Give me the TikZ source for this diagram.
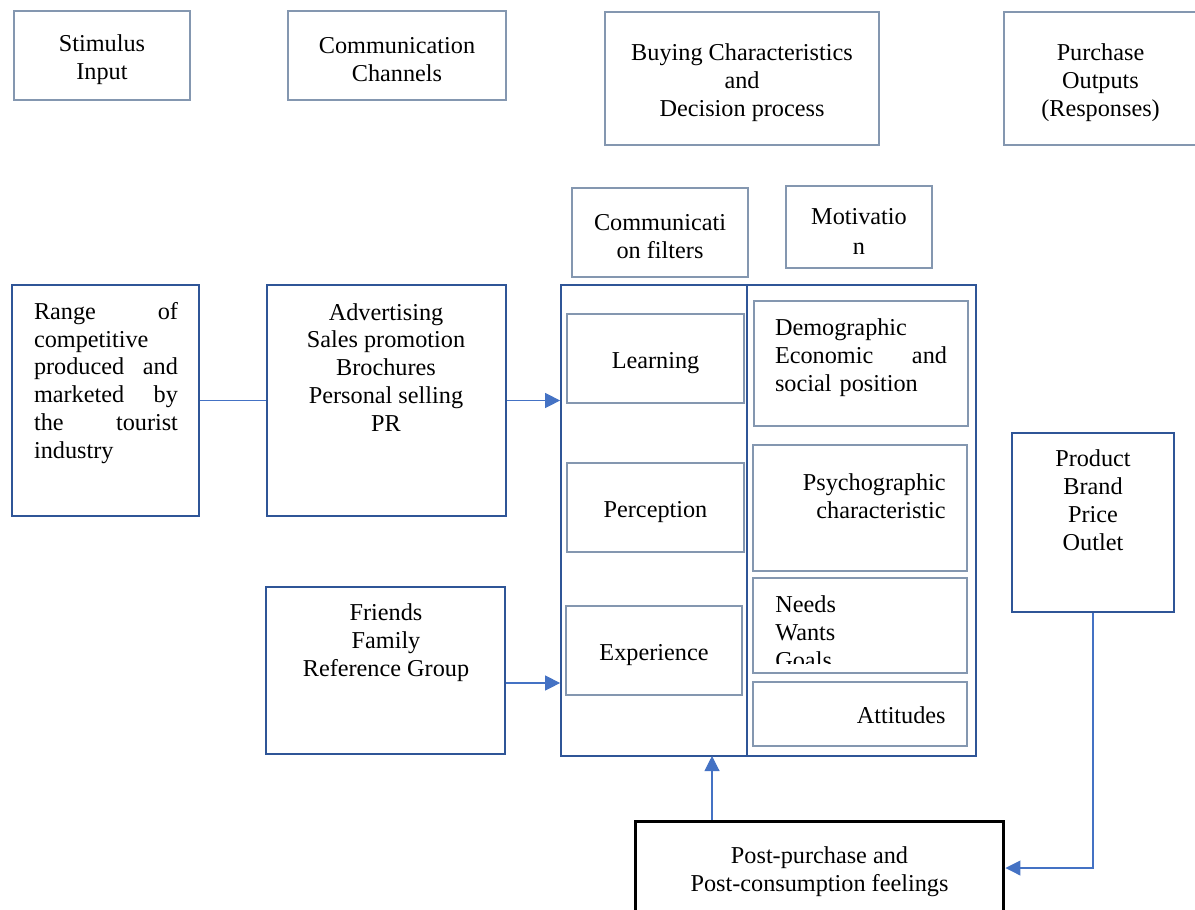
\documentclass[tikz,border=0pt]{standalone}
\usepackage{fontspec}
\setmainfont{Liberation Serif}
\usetikzlibrary{arrows.meta}
\definecolor{darkblue}{HTML}{2F5597}
\definecolor{greyblue}{HTML}{8497B0}
\definecolor{arrowblue}{HTML}{4472C4}
\newcommand{\tstrut}{\rule{0pt}{14pt}}
\tikzset{
	txt/.style={font=\fontsize{13.8}{15.9}\selectfont, align=center, inner sep=0pt},
	lbox/.style={txt, draw=greyblue, line width=1.5pt},
	dbox/.style={txt, draw=darkblue, line width=1pt},
	arr/.style={draw=arrowblue, line width=0.6pt, -{Triangle[length=0.3cm,width=0.3cm]}, arrowblue}
}

\begin{document}
\begin{tikzpicture}[x=0.02cm, y=-0.02cm]
				\useasboundingbox (0,0) rectangle (1195,909);
				\clip (0,0) rectangle (1195,909);
				
				% top row
				\node[lbox, minimum width=3.52cm, minimum height=1.78cm] (stim) at (102,55.5) {\tstrut Stimulus\\Input};
				\node[lbox, minimum width=4.36cm, minimum height=1.78cm] (chan) at (397,55.5) {\tstrut Communication\\Channels};
				\node[lbox, minimum width=5.48cm, minimum height=2.66cm] (buy) at (742,78.5) {\tstrut Buying Characteristics\\and\\Decision process};
				\node[lbox, minimum width=3.86cm, minimum height=2.66cm] (purch) at (1100.5,78.5) {\tstrut Purchase\\Outputs\\(Responses)};
				
				\node[lbox, minimum width=3.52cm, minimum height=1.78cm] (cfilt) at (660,232.5) {\tstrut Communicati\\on filters};
				\node[lbox, minimum width=2.92cm, minimum height=1.64cm] (motiv) at (859,227) {\tstrut Motivatio\\[1pt]n};
				
				% stimulus and channels
				\node[dbox, minimum width=3.74cm, minimum height=4.62cm] (range) at (105.5,400.5) {};
				\node[txt, text width=2.88cm, align=left] (rangetext) at (106,383) {Range\hfill of\\competitive\\produced\hfill and\\marketed\hfill by\\the\hfill tourist\\industry};
				\node[dbox, minimum width=4.78cm, minimum height=4.62cm] (adv) at (386.5,400.5) {};
				\node[txt] (advtext) at (386,367.5) {Advertising\\Sales promotion\\Brochures\\Personal selling\\PR};
				\node[dbox, minimum width=4.78cm, minimum height=3.34cm] (friends) at (385.5,670.5) {};
				\node[txt] (friendstext) at (386,643) {Friends\\Family\\Reference Group};
				
				% filters
				\node[dbox, minimum width=3.72cm, minimum height=9.42cm] (filt) at (654,520.5) {};
				\node[lbox, minimum width=3.54cm, minimum height=1.78cm] (learn) at (655.5,358.5) {\tstrut Learning};
				\node[lbox, minimum width=3.54cm, minimum height=1.78cm] (perc) at (655.5,507.5) {\tstrut Perception};
				\node[lbox, minimum width=3.52cm, minimum height=1.78cm] (exper) at (654,650.5) {\tstrut Experience};
				
				% characteristics
				\node[dbox, minimum width=4.58cm, minimum height=9.42cm] (char) at (861.5,520.5) {};
				\node[lbox, minimum width=4.28cm, minimum height=2.5cm] (demo) at (861,363.5) {};
				\node[txt, text width=3.44cm, align=left] (demotext) at (861,358) {Demographic\\Economic\hfill and\\social position};
				\node[lbox, minimum width=4.28cm, minimum height=2.52cm] (psych) at (860,508) {};
				\node[txt, align=right, anchor=east] (psychtext) at (946,496) {Psychographic\\characteristic};
				\node[lbox, minimum width=4.28cm, minimum height=1.9cm] (needs) at (860,625.5) {};
				\begin{scope}
					\clip (753,578) rectangle (967,663);
					\node[txt, align=left, anchor=west] (needstext) at (775,632) {Needs\\Wants\\Goals};
				\end{scope}
				\node[lbox, minimum width=4.28cm, minimum height=1.28cm] (att) at (860,714) {};
				\node[txt, anchor=east] (atttext) at (946,715) {Attitudes};
				
				% outputs
				\node[dbox, minimum width=3.24cm, minimum height=3.58cm] (prod) at (1093,522.5) {};
				\node[txt] (prodtext) at (1093,500) {Product\\Brand\\Price\\Outlet};
				\node[txt, draw=black, line width=1.7pt, minimum width=7.38cm, minimum height=1.88cm] (post) at (819.5,868) {\tstrut Post-purchase and\\Post-consumption feelings};
				
				% connectors
				\draw[draw=arrowblue, line width=0.6pt] (range.east) -- (adv.west);
				\draw[arr] (adv.east) -- (adv.east -| filt.west);
				\draw[arr] ([yshift=-0.25cm]friends.east) -- ([yshift=-0.25cm]friends.east -| filt.west);
				\coordinate (fb) at (712,756);
				\draw[arr] (fb |- post.north) -- (fb);
				\draw[arr] (prod.south) |- (post.east);
\end{tikzpicture}
\end{document}
